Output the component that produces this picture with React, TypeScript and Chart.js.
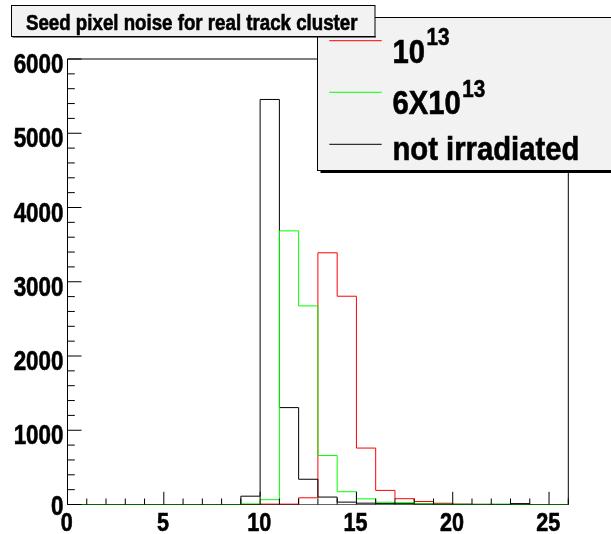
import React, { useEffect, useRef } from "react";
import { Chart, registerables } from "chart.js";

Chart.register(...registerables);

// ---------- data ----------
const chartTitle = "Seed pixel noise for real track cluster";
const binLowEdges = [0, 1, 2, 3, 4, 5, 6, 7, 8, 9, 10, 11, 12, 13, 14, 15, 16, 17, 18, 19, 20, 21, 22, 23, 24, 25];
const binWidth = 1;
const irradiated1e13 = [0, 0, 0, 0, 0, 0, 0, 0, 0, 0, 5, 5, 90, 3390, 2805, 760, 190, 78, 40, 17, 3, 1, 0, 0, 0, 0];
const irradiated6e13 = [0, 0, 0, 0, 0, 0, 0, 0, 0, 8, 65, 3685, 2675, 660, 172, 76, 30, 25, 8, 4, 2, 1, 3, 0, 0, 0];
const notIrradiated = [0, 0, 0, 0, 0, 0, 0, 0, 0, 112, 5455, 1305, 340, 100, 32, 18, 15, 12, 8, 5, 3, 2, 2, 12, 0, 0];
const legendBase = ["10", "6X10", "not irradiated"];
const legendSup = ["13", "13", ""];
const seriesColors = ["#ff0000", "#00ff00", "#000000"];
const xTickValues = [0, 5, 10, 15, 20, 25];
const yTickValues = [0, 1000, 2000, 3000, 4000, 5000, 6000];
const xMin = 0;
const xMax = 26;
const yMin = 0;
const yMax = 6000;
const xMinorStep = 1;
const yMinorStep = 200;

const FONT = "'Liberation Sans', Arial, Helvetica, sans-serif";
const NARROW = 0.83;

function toSteps(values: number[]) {
  const pts = values.map((v, i) => ({ x: binLowEdges[i], y: v }));
  pts.push({ x: binLowEdges[binLowEdges.length - 1] + binWidth, y: values[values.length - 1] });
  return pts;
}

function narrowText(ctx: CanvasRenderingContext2D, text: string, x: number, y: number, size: number, align: CanvasTextAlign, squeeze = NARROW) {
  ctx.save();
  ctx.font = `bold ${size}px ${FONT}`;
  ctx.textAlign = align;
  ctx.textBaseline = "alphabetic";
  ctx.fillStyle = "#000";
  ctx.strokeStyle = "#000";
  ctx.lineWidth = 0.6;
  ctx.translate(x, y);
  ctx.scale(squeeze, 1);
  ctx.fillText(text, 0, 0);
  ctx.strokeText(text, 0, 0);
  const w = ctx.measureText(text).width * squeeze;
  ctx.restore();
  return w;
}

const rootStylePlugin = {
  id: "rootStyle",
  afterDatasetsDraw(chart: any) {
    const { ctx, chartArea: ca, scales } = chart;
    const xs = scales.x;
    const ys = scales.y;
    ctx.save();
    ctx.lineWidth = 1;
    ctx.strokeStyle = "#000";
    // frame
    ctx.beginPath();
    ctx.moveTo(ca.left, ca.bottom);
    ctx.lineTo(ca.left, ca.top);
    ctx.lineTo(ca.right, ca.top);
    ctx.lineTo(ca.right, ca.bottom);
    ctx.stroke();
    ctx.strokeStyle = "rgba(0,0,0,0.6)";
    ctx.beginPath();
    ctx.moveTo(ca.left, ca.bottom);
    ctx.lineTo(ca.right, ca.bottom);
    ctx.stroke();
    ctx.strokeStyle = "#000";
    // x ticks (inward)
    ctx.beginPath();
    for (let v = xMin; v <= xMax + 1e-9; v += xMinorStep) {
      const px = xs.getPixelForValue(v);
      const major = xTickValues.includes(v);
      ctx.moveTo(px, ca.bottom);
      ctx.lineTo(px, ca.bottom - (major ? 12.7 : 6));
    }
    // y ticks (inward)
    for (let v = yMin; v <= yMax + 1e-9; v += yMinorStep) {
      const py = ys.getPixelForValue(v);
      const major = yTickValues.includes(v);
      ctx.moveTo(ca.left, py);
      ctx.lineTo(ca.left + (major ? 14 : 7.3), py);
    }
    ctx.stroke();
    ctx.restore();

    // tick labels from the scales' ticks
    xs.ticks.forEach((t: any) => {
      const px = xs.getPixelForValue(t.value);
      narrowText(ctx, String(t.label), px - 0.8, 531, 26, "center");
    });
    ys.ticks.forEach((t: any) => {
      const py = ys.getPixelForValue(t.value);
      const off = t.value === yMin ? 10.5 : 14.2;
      narrowText(ctx, String(t.label), 63.5, py + off, 27, "right");
    });
  },
  afterDraw(chart: any) {
    const { ctx } = chart;
    ctx.save();
    ctx.lineWidth = 1;
    // legend box
    const lx = 317.5, ly = 17.5, lr = 620, lb = 170.5;
    ctx.fillStyle = "#f2f2f2";
    ctx.fillRect(lx, ly, lr - lx, lb - ly);
    ctx.strokeStyle = "#000";
    ctx.strokeRect(lx, ly, lr - lx, lb - ly);
    ctx.fillStyle = "#000";
    ctx.fillRect(lx + 3, lb + 0.5, lr - lx, 2);
    const lineYs = [40.7, 92.3, 144.3];
    const baseYs = [62.7, 114.3, 160];
    const dsets = chart.data.datasets;
    for (let i = 0; i < dsets.length; i++) {
      ctx.strokeStyle = dsets[i].borderColor;
      ctx.lineWidth = 1;
      ctx.beginPath();
      ctx.moveTo(329.3, lineYs[i]);
      ctx.lineTo(381.7, lineYs[i]);
      ctx.stroke();
      const w = narrowText(ctx, legendBase[i], 392.5, baseYs[i], 34, "left", 0.86);
      if (legendSup[i]) {
        narrowText(ctx, legendSup[i], 392.5 + w + 1.5, baseYs[i] - 17.6, 24, "left", 0.86);
      }
    }

    // title box (on top of legend)
    const tx = 11.5, ty = 5.5, tw = 363.5, th = 31;
    ctx.fillStyle = "#f2f2f2";
    ctx.fillRect(tx, ty, tw, th);
    ctx.strokeStyle = "#000";
    ctx.lineWidth = 1;
    ctx.strokeRect(tx, ty, tw, th);
    ctx.fillStyle = "#000";
    ctx.fillRect(tx + 1, ty + th, tw, 1);
    narrowText(ctx, chartTitle, tx + tw / 2 - 1.5, 30, 22, "center", 0.85);
    ctx.restore();
  },
};

export default function App() {
  const ref = useRef<HTMLCanvasElement | null>(null);
  useEffect(() => {
    if (!ref.current) return;
    const chart = new Chart(ref.current, {
      type: "line",
      data: {
        datasets: [
          {
            label: legendBase[0] + legendSup[0],
            data: toSteps(irradiated1e13),
            borderColor: seriesColors[0],
            order: 3,
          },
          {
            label: legendBase[1] + legendSup[1],
            data: toSteps(irradiated6e13),
            borderColor: seriesColors[1],
            order: 1,
          },
          {
            label: legendBase[2],
            data: toSteps(notIrradiated),
            borderColor: seriesColors[2],
            order: 2,
          },
        ].map((d) => ({
          ...d,
          stepped: true,
          borderWidth: 1,
          pointRadius: 0,
          fill: false,
          tension: 0,
          clip: false as any,
        })),
      },
      options: {
        animation: false,
        responsive: false,
        devicePixelRatio: 1,
        layout: { padding: { left: 0, top: 59, right: 42.7, bottom: 0 } },
        plugins: { legend: { display: false }, title: { display: false }, tooltip: { enabled: false } },
        scales: {
          x: {
            type: "linear",
            min: xMin,
            max: xMax,
            grid: { display: false, drawTicks: false, tickLength: 0 },
            border: { display: false },
            ticks: { display: false, callback: (v: any) => String(v) },
            afterBuildTicks: (s: any) => {
              s.ticks = xTickValues.map((v) => ({ value: v }));
            },
            afterFit: (s: any) => {
              s.height = 29.5;
            },
          },
          y: {
            type: "linear",
            min: yMin,
            max: yMax,
            grid: { display: false, drawTicks: false, tickLength: 0 },
            border: { display: false },
            ticks: { display: false, callback: (v: any) => String(v) },
            afterBuildTicks: (s: any) => {
              s.ticks = yTickValues.map((v) => ({ value: v }));
            },
            afterFit: (s: any) => {
              s.width = 67.5;
            },
          },
        },
      },
      plugins: [rootStylePlugin],
    } as any);
    return () => chart.destroy();
  }, []);
  return (
    <div style={{ position: "absolute", left: 0, top: 0, width: 611, height: 534, background: "#fff" }}>
      <canvas ref={ref} width={611} height={534} style={{ width: 611, height: 534, display: "block" }} />
    </div>
  );
}
